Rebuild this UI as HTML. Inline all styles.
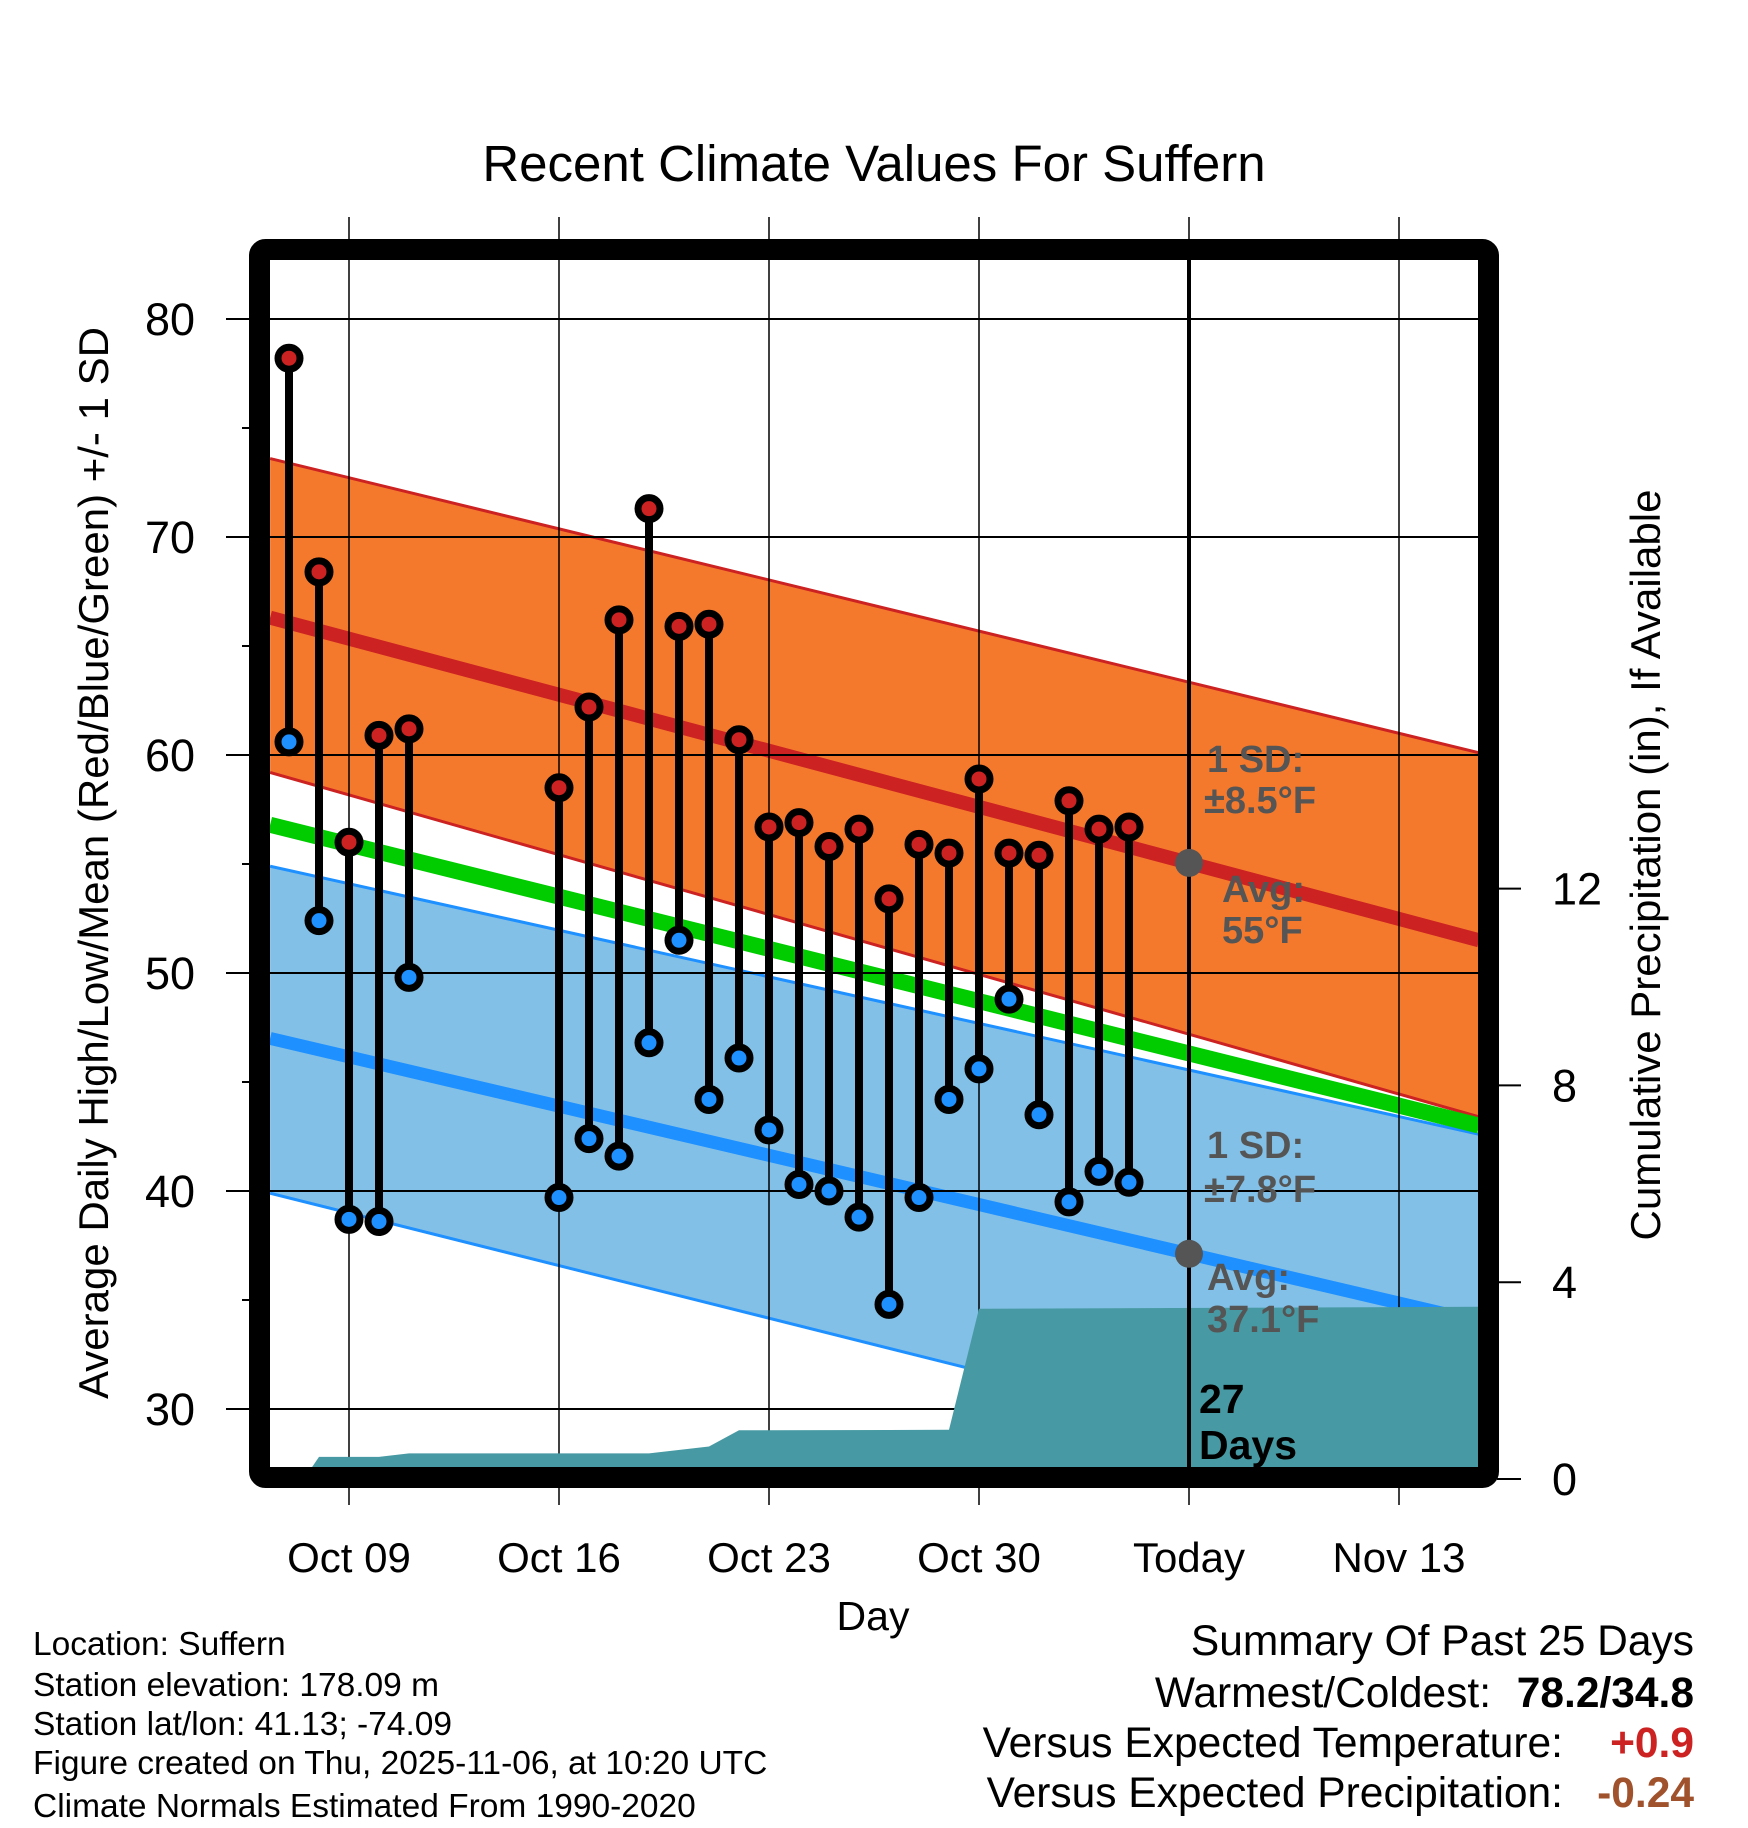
<!DOCTYPE html>
<html><head><meta charset="utf-8">
<style>
html,body{margin:0;padding:0;background:#fff;}
svg{display:block;font-family:"Liberation Sans",Arial,sans-serif;}
</style></head>
<body>
<svg id="chart" width="1748" height="1828" viewBox="0 0 1748 1828" xmlns="http://www.w3.org/2000/svg">
<defs><clipPath id="plotclip"><rect x="270" y="260" width="1209" height="1210"/></clipPath></defs>
<rect x="0" y="0" width="1748" height="1828" fill="#fff"/>
<text x="874" y="181" font-size="51" text-anchor="middle">Recent Climate Values For Suffern</text>
<g id="bands" clip-path="url(#plotclip)"></g>
<g id="grid"></g>
<g id="precip" clip-path="url(#plotclip)"></g>
<g id="annot" font-weight="bold" font-size="38" fill="#555"></g>
<g id="marks"></g>
<g id="axes"></g>
<text transform="translate(108,863) rotate(-90)" font-size="42" text-anchor="middle">Average Daily High/Low/Mean (Red/Blue/Green) +/- 1 SD</text>
<text transform="translate(1660,865) rotate(-90)" font-size="42" text-anchor="middle">Cumulative Precipitation (in), If Available</text>
<text x="873" y="1630" font-size="41" text-anchor="middle">Day</text>
<g font-size="33.5">
<text x="33" y="1655">Location: Suffern</text>
<text x="33" y="1696">Station elevation: 178.09 m</text>
<text x="33" y="1735">Station lat/lon: 41.13; -74.09</text>
<text x="33" y="1774">Figure created on Thu, 2025-11-06, at 10:20 UTC</text>
<text x="33" y="1817">Climate Normals Estimated From 1990-2020</text>
</g>
<g font-size="42.5">
<text x="1694" y="1655" text-anchor="end">Summary Of Past 25 Days</text>
<text x="1491" y="1707" text-anchor="end">Warmest/Coldest:</text>
<text x="1694" y="1707" text-anchor="end" font-weight="bold">78.2/34.8</text>
<text x="1563" y="1757" text-anchor="end">Versus Expected Temperature:</text>
<text x="1694" y="1757" text-anchor="end" font-weight="bold" fill="#cc2222">+0.9</text>
<text x="1563" y="1807" text-anchor="end">Versus Expected Precipitation:</text>
<text x="1694" y="1807" text-anchor="end" font-weight="bold" fill="#a0522d">-0.24</text>
</g>
</svg>
<script>
// days are offsets from Oct 09
const obsDays = [-2,-1,0,1,2,7,8,9,10,11,12,13,14,15,16,17,18,19,20,21,22,23,24,25,26];
const highs = [78.2,68.4,56.0,60.9,61.2,58.5,62.2,66.2,71.3,65.9,66.0,60.7,56.7,56.9,55.8,56.6,53.4,55.9,55.5,58.9,55.5,55.4,57.9,56.6,56.7];
const lows = [60.6,52.4,38.7,38.6,49.8,39.7,42.4,41.6,46.8,51.5,44.2,46.1,42.8,40.3,40.0,38.8,34.8,39.7,44.2,45.6,48.8,43.5,39.5,40.9,40.4];
const normDays = [-2.63,37.67];
const highMean = [66.3,51.5];
const highUpper = [73.6,60.1];
const highLower = [59.2,43.4];
const meanMean = [56.8,43.0];
const lowMean = [47.0,34.0];
const lowUpper = [54.9,42.6];
const lowLower = [39.9,26.0];
const precipDays = [-1.5,-1,1,2,10,12,13,20,21,37.67];
const precipVals = [0,0.45,0.45,0.52,0.52,0.66,0.99,1.0,3.46,3.5];
const xTickDays = [0,7,14,21,28,35];
const xTickLabels = ["Oct 09","Oct 16","Oct 23","Oct 30","Today","Nov 13"];
const yTicks = [30,40,50,60,70,80];
const yMinor = [35,45,55,65,75];
const pTicks = [0,4,8,12];
const todayDay = 28;

const NS = "http://www.w3.org/2000/svg";
const X = d => 349 + 30*d;
const Y = v => 319 + (80-v)*21.8;
const P = p => 1479 - p*49.2;
function mk(tag, attrs, parent){const e=document.createElementNS(NS,tag);for(const k in attrs)e.setAttribute(k,attrs[k]);parent.appendChild(e);return e;}
const bands=document.getElementById('bands'), grid=document.getElementById('grid'), marks=document.getElementById('marks'), axes=document.getElementById('axes'), precip=document.getElementById('precip'), annot=document.getElementById('annot');
function pts(arr){return normDays.map((d,i)=>X(d)+','+Y(arr[i])).join(' ');}
function band(up,lo,fill,stroke,name){
  const p=mk('polygon',{points:pts(up)+' '+normDays.slice().reverse().map((d,i)=>X(d)+','+Y(lo[lo.length-1-i])).join(' '),fill:fill},bands);
  
  
  const a=mk('polyline',{points:pts(up),fill:'none',stroke:stroke,'stroke-width':3},bands);
  
  
  const b=mk('polyline',{points:pts(lo),fill:'none',stroke:stroke,'stroke-width':3},bands);
  
  
}
band(lowUpper,lowLower,'#83c0e7','#1e90ff','low');
band(highUpper,highLower,'#f5792c','#cc2222','high');
function line(arr,color,w,name){const l=mk('polyline',{points:pts(arr),fill:'none',stroke:color,'stroke-width':w},bands);
  
  }
line(meanMean,'#00cc00',16,'normal-mean-line');
line(highMean,'#cc2222',14,'normal-high-line');
line(lowMean,'#1e90ff',13,'normal-low-line');

// grid
yTicks.forEach(v=>{const l=mk('line',{x1:226,x2:1479,y1:Y(v),y2:Y(v),stroke:'#000','stroke-width':2},grid);
  
  
  const t=mk('text',{x:195,y:Y(v)+16,'font-size':45,'text-anchor':'end'},axes);t.textContent=v;
  
  });
yMinor.forEach(v=>{const l=mk('line',{x1:242,x2:250,y1:Y(v),y2:Y(v),stroke:'#000','stroke-width':2},grid);
  
  });
xTickDays.forEach((d,i)=>{const isT=d===todayDay;
  const l=mk('line',{x1:X(d),x2:X(d),y1:isT?260:217,y2:isT?1470:1505,stroke:'#000','stroke-width':isT?4:1.5},grid);
  
  
  if(isT){const l2=mk('line',{x1:X(d),x2:X(d),y1:217,y2:1505,stroke:'#000','stroke-width':1.5},grid);
    
    }
  const t=mk('text',{x:X(d),y:1572,'font-size':42,'text-anchor':'middle'},axes);t.textContent=xTickLabels[i];
  
  });
pTicks.forEach(p=>{const l=mk('line',{x1:1497,x2:1521,y1:P(p),y2:P(p),stroke:'#000','stroke-width':2},axes);
  
  
  const t=mk('text',{x:1552,y:P(p)+16,'font-size':45},axes);t.textContent=p;
  
  });

// annotations
const ann=[["1 SD:",1207,772],["±8.5°F",1204,813],["Avg:",1222,902],["55°F",1222,943],["1 SD:",1207,1158],["±7.8°F",1204,1202],["Avg:",1207,1290],["37.1°F",1207,1332]];
ann.forEach(a=>{const t=mk('text',{x:a[1],y:a[2]},annot);t.textContent=a[0];
  
  });

// precip
let d='M'+X(precipDays[0])+','+P(0);
precipDays.forEach((dd,i)=>{d+=' L'+X(dd)+','+P(precipVals[i]);});
d+=' L'+X(precipDays[precipDays.length-1])+','+P(0)+' Z';
const pa=mk('path',{d:d,fill:'#479aa3'},precip);


const tl=mk('line',{x1:X(todayDay),x2:X(todayDay),y1:P(precipVals[precipVals.length-1]),y2:1470,stroke:'#000','stroke-width':4},precip);


[["27",1199,1413],["Days",1199,1459]].forEach(a=>{const t=mk('text',{x:a[1],y:a[2],'font-size':41,'font-weight':'bold'},precip);t.textContent=a[0];
  
  });

// today normal dots
[[highMean],[lowMean]].forEach((a,i)=>{const arr=a[0];const v=arr[0]+(arr[1]-arr[0])*(todayDay-normDays[0])/(normDays[1]-normDays[0]);
  const c=mk('circle',{cx:X(todayDay),cy:Y(v),r:14,fill:'#555'},marks);
  
  });

// stems
obsDays.forEach((dd,i)=>{const s=mk('line',{x1:X(dd),x2:X(dd),y1:Y(highs[i]),y2:Y(lows[i]),stroke:'#000','stroke-width':8},marks);
  
  });
obsDays.forEach((dd,i)=>{
  const h=mk('circle',{cx:X(dd),cy:Y(highs[i]),r:11,fill:'#cc2222',stroke:'#000','stroke-width':7},marks);
  
  
  const l=mk('circle',{cx:X(dd),cy:Y(lows[i]),r:11,fill:'#1e90ff',stroke:'#000','stroke-width':7},marks);
  
  });

// frame
const fr=mk('rect',{x:259.5,y:249.5,width:1229,height:1228,rx:6,fill:'none',stroke:'#000','stroke-width':21},axes);


</script>
</body></html>
